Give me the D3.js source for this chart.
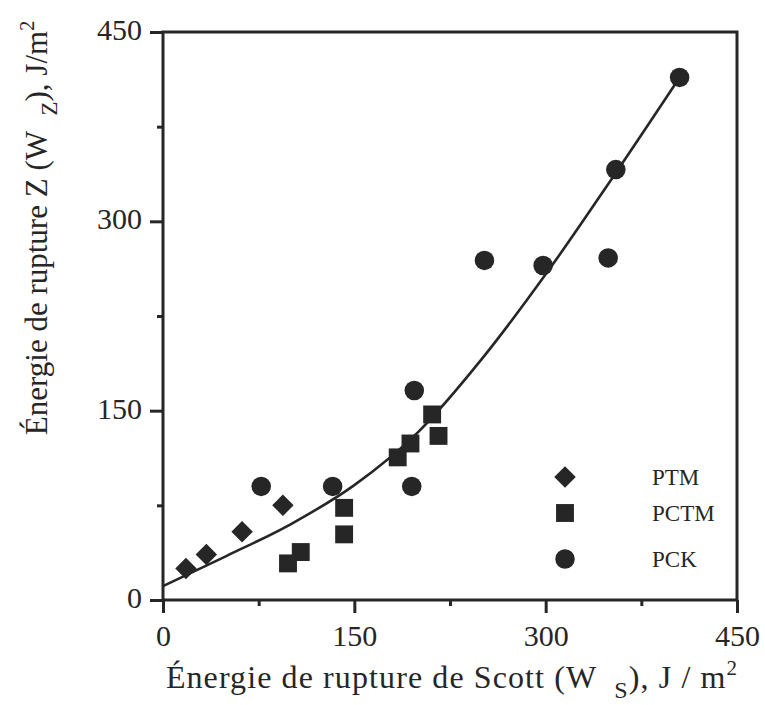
<!DOCTYPE html>
<html><head><meta charset="utf-8">
<script src="https://cdn.jsdelivr.net/npm/d3@7"></script>
<style>body{margin:0;background:#fff}svg{display:block}</style>
</head><body>
<script>
// ---- data ----
const ptmX = [18, 34, 62, 94];
const ptmY = [25, 36, 54, 75];
const pctmX = [98, 108, 142, 142, 184, 194, 211, 216];
const pctmY = [29, 38, 73, 52, 113, 124, 147, 130];
const pckX = [77, 133, 197, 195, 252, 298, 349, 355, 405];
const pckY = [90, 90, 166, 90, 269, 265, 271, 341, 414];
const fitX = [0, 50, 100, 150, 200, 250, 300, 350, 405];
const fitY = [11, 35, 60, 91, 133, 191, 258, 331, 414];
const majorTicks = [0, 150, 300, 450];
const minorTicks = [75, 225, 375];
const legendLabels = ["PTM", "PCTM", "PCK"];

const W = 765, H = 705;
const L = 163, R = 737, T = 32, B = 600;
const ink = "#262626";
const font = "'Liberation Serif', serif";

const svg = d3.select("body").append("svg").attr("width", W).attr("height", H);
const x = d3.scaleLinear().domain([0, 450]).range([L, R]);
const y = d3.scaleLinear().domain([0, 450]).range([B, T]);

// axes
const gx = svg.append("g").attr("transform", `translate(0,${B})`)
  .call(d3.axisBottom(x).tickValues(majorTicks).tickSize(13).tickPadding(12).tickFormat(d3.format("d")));
const gxm = svg.append("g").attr("transform", `translate(0,${B})`)
  .call(d3.axisBottom(x).tickValues(minorTicks).tickSize(6).tickFormat(""));
const gy = svg.append("g").attr("transform", `translate(${L},0)`)
  .call(d3.axisLeft(y).tickValues(majorTicks).tickSize(13).tickPadding(8).tickFormat(d3.format("d")));
const gym = svg.append("g").attr("transform", `translate(${L},0)`)
  .call(d3.axisLeft(y).tickValues(minorTicks).tickSize(6).tickFormat(""));
[gx, gxm, gy, gym].forEach(g => {
  g.select(".domain").remove();
  g.selectAll("line").attr("stroke", ink).attr("stroke-width", 3);
  g.selectAll("text").attr("fill", ink).style("font-family", font).style("font-size", "30px");
});
gy.selectAll("text").attr("dy", "0.25em");

svg.append("rect").attr("x", L).attr("y", T).attr("width", R - L).attr("height", B - T)
  .attr("fill", "none").attr("stroke", ink).attr("stroke-width", 3);

// fit curve
const fit = fitX.map((v, i) => [v, fitY[i]]);
svg.append("path").datum(fit)
  .attr("d", d3.line().x(d => x(d[0])).y(d => y(d[1])).curve(d3.curveMonotoneX))
  .attr("fill", "none").attr("stroke", ink).attr("stroke-width", 2.6);

// markers
const sym = {
  diamond: d3.symbol().type(d3.symbolSquare).size(230),
  square: d3.symbol().type(d3.symbolSquare).size(320),
  circle: d3.symbol().type(d3.symbolCircle).size(300)
};
function drawPts(xs, ys, kind) {
  svg.append("g").selectAll("path").data(xs.map((v, i) => [v, ys[i]])).join("path")
    .attr("d", sym[kind]())
    .attr("transform", d => `translate(${x(d[0])},${y(d[1])})` + (kind === "diamond" ? " rotate(45)" : ""))
    .attr("fill", ink);
}
drawPts(ptmX, ptmY, "diamond");
drawPts(pctmX, pctmY, "square");
drawPts(pckX, pckY, "circle");

// legend
const kinds = ["diamond", "square", "circle"];
const legY = [477, 513, 559];
legendLabels.forEach((lab, i) => {
  svg.append("path").attr("d", sym[kinds[i]]())
    .attr("transform", `translate(565,${legY[i]})` + (kinds[i] === "diamond" ? " rotate(45)" : ""))
    .attr("fill", ink);
  svg.append("text").attr("x", 652).attr("y", legY[i] + 8).text(lab)
    .attr("fill", ink).style("font-family", font).style("font-size", "23px");
});

// axis titles
const xt = svg.append("text").attr("x", 452).attr("y", 688).attr("text-anchor", "middle")
  .attr("fill", ink).style("font-family", font).style("font-size", "32px").style("letter-spacing", "1.1px");
xt.append("tspan").text("Énergie de rupture de Scott (W\u2002");
xt.append("tspan").text("S").attr("dy", 10).style("font-size", "24px");
xt.append("tspan").text("), J / m").attr("dy", -10);
xt.append("tspan").text("2").attr("dy", -13).style("font-size", "21px");

const yt = svg.append("text").attr("transform", "translate(47,228) rotate(-90)").attr("text-anchor", "middle")
  .attr("fill", ink).style("font-family", font).style("font-size", "31px");
yt.append("tspan").text("Énergie de rupture Z (W\u2002");
yt.append("tspan").text("Z").attr("dy", 10).style("font-size", "23px");
yt.append("tspan").text("), J/m").attr("dy", -10);
yt.append("tspan").text("2").attr("dy", -13).style("font-size", "20px");
</script>
</body></html>
